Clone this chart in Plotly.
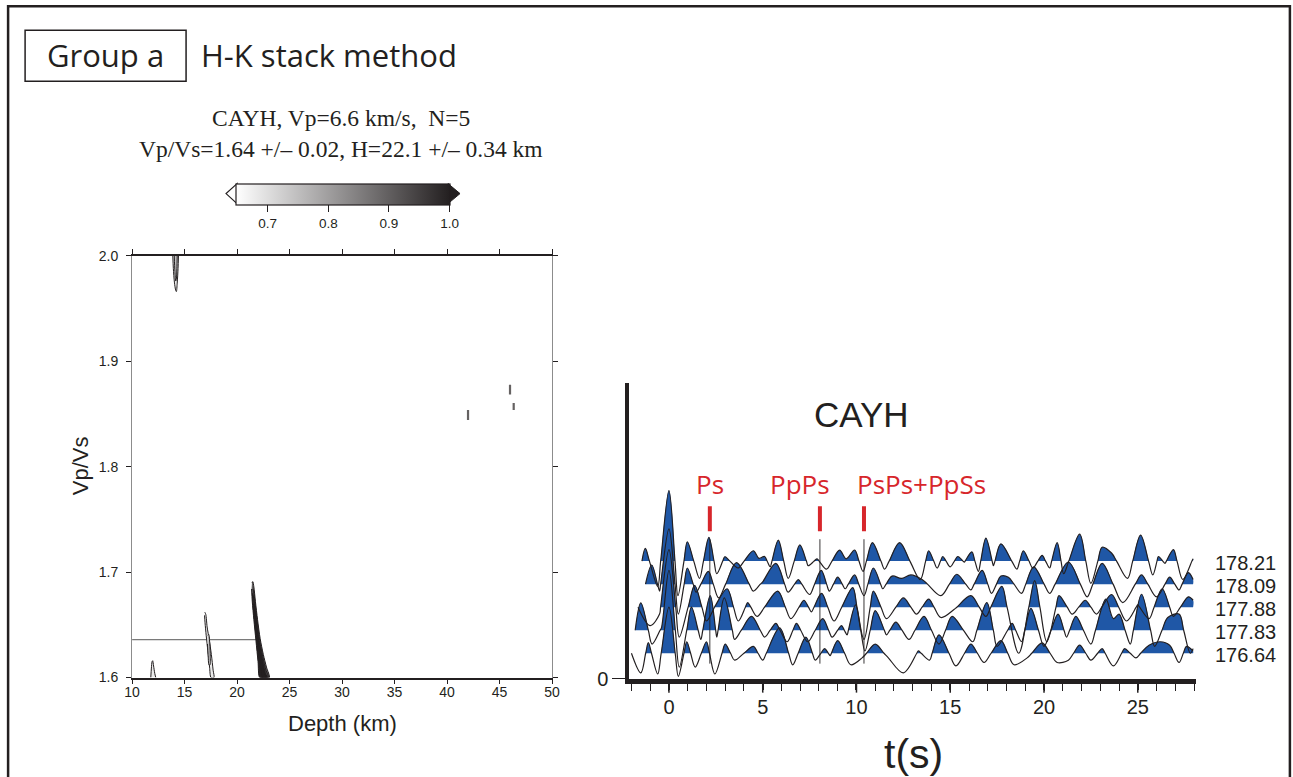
import plotly.graph_objects as go

# Layout is worked out in final window pixels (1293 x 777). The page keeps the browser's
# default 8 px body margin and the photographed view is about 1309 x 798 before it is
# reduced to the window size, so pixel positions are converted accordingly.
W, H = 1293, 777
VIEW_W, VIEW_H = 1309, 798
SX, SY = W / VIEW_W, H / VIEW_H
PAGE_MARGIN = 8
FIG_W, FIG_H = VIEW_W - 2 * PAGE_MARGIN, VIEW_H - 2 * PAGE_MARGIN
INK = "#231f20"
BLUE = "#1f57a6"
RED = "#d7262b"
SANS = "Liberation Sans, Arial, sans-serif"
MYRIAD = "Open Sans, Noto Sans, sans-serif"
SERIF = "Liberation Serif, Times New Roman, serif"


def px(x):
    return (x / SX - PAGE_MARGIN) / FIG_W


def py(y):
    return 1 - (y / SY - PAGE_MARGIN) / FIG_H


# ---------------- H-K stack results ----------------
station = "CAYH"
vp = 6.6
n_events = 5
best_vpvs, err_vpvs = 1.636, 0.02
best_h, err_h = 22.1, 0.34
cmin, cmax = 0.647, 1.0
cbar_ticks = [0.7, 0.8, 0.9, 1.0]

depth_ticks = [10, 15, 20, 25, 30, 35, 40, 45, 50]
vpvs_ticks = [1.6, 1.7, 1.8, 1.9, 2.0]

# normalised stack-amplitude contours (depth km, Vp/Vs)
contour_levels = [0.68, 0.68, 0.75, 0.68, 0.74, 0.90, 0.95, 0.98, 1.0]
contour_depth = [
    [11.78, 11.84, 11.9, 11.96, 12.05, 12.16, 12.26],
    [13.88, 13.93, 14.03, 14.16, 14.22, 14.3, 14.38, 14.42],
    [14.02, 14.08, 14.16, 14.22, 14.27, 14.3],
    [16.93, 17.02, 17.15, 17.35, 17.55, 17.72, 17.8, 17.52, 17.38, 17.22, 17.06, 16.95, 16.9],
    [17.22, 17.3, 17.4, 17.45, 17.42, 17.33, 17.24, 17.18],
    [21.42, 21.5, 21.6, 21.75, 21.95, 22.2, 22.5, 22.8, 23.08, 22.6, 22.16, 22.0, 21.8, 21.6, 21.45, 21.38],
    [21.5, 21.58, 21.72, 21.92, 22.16, 22.45, 22.75, 22.98, 22.22, 22.06, 21.86, 21.66, 21.5, 21.46],
    [21.55, 21.66, 21.85, 22.1, 22.4, 22.7, 22.88, 22.3, 22.12, 21.92, 21.72, 21.56],
    [21.68, 21.82, 22.05, 22.35, 22.62, 22.78, 22.4, 22.2, 21.98, 21.76],
]
contour_vpvs = [
    [1.600, 1.609, 1.615, 1.616, 1.611, 1.604, 1.600],
    [2.0, 1.988, 1.975, 1.967, 1.966, 1.974, 1.988, 2.0],
    [2.0, 1.985, 1.976, 1.978, 1.988, 2.0],
    [1.662, 1.660, 1.648, 1.636, 1.622, 1.607, 1.600, 1.600, 1.610, 1.625, 1.640, 1.652, 1.659],
    [1.640, 1.641, 1.632, 1.620, 1.612, 1.612, 1.622, 1.632],
    [1.690, 1.691, 1.686, 1.672, 1.655, 1.637, 1.622, 1.610, 1.600, 1.600, 1.600, 1.615, 1.635, 1.655, 1.672, 1.684],
    [1.684, 1.682, 1.670, 1.653, 1.635, 1.620, 1.607, 1.600, 1.600, 1.614, 1.634, 1.654, 1.671, 1.680],
    [1.678, 1.668, 1.652, 1.634, 1.618, 1.604, 1.600, 1.600, 1.613, 1.633, 1.653, 1.670],
    [1.665, 1.652, 1.634, 1.617, 1.604, 1.600, 1.600, 1.612, 1.632, 1.652],
]
# isolated small maxima
spot_depth = [42.0, 46.0, 46.35]
spot_vpvs = [1.849, 1.873, 1.857]

# ---------------- receiver functions ----------------
trace_labels = ["178.21", "178.09", "177.88", "177.83", "176.64"]
trace_offsets = [5.1, 4.1, 3.1, 2.1, 1.1]

t_17821 = [-1.44, -1.26, -0.6, 0.0, 0.48, 0.98, 1.63, 2.13, 2.55, 2.98, 3.68, 4.5, 4.8, 5.1, 5.4, 5.83,
           6.36, 6.98, 7.43, 7.9, 8.4, 9.1, 9.45, 9.9, 10.35, 10.85, 11.5, 12.3, 13.4, 13.85, 14.3, 14.6,
           15.0, 15.4, 15.75, 16.15, 16.5, 16.9, 17.3, 17.7, 18.55, 18.9, 19.4, 19.9, 20.3, 20.7, 21.05,
           21.9, 22.5, 23.1, 23.6, 24.45, 25.15, 25.8, 26.1, 26.45, 26.9, 27.4, 27.95]
a_17821 = [0.0, 0.55, -1.1, 3.06, -1.5, 0.84, -0.75, 1.03, -0.55, 0.19, -0.3, 0.45, 0.12, 0.2, -0.25, 0.91,
           -0.75, 0.7, -0.2, 0.1, -0.35, 0.48, 0.1, 0.48, -0.45, 0.8, -0.35, 0.8, -0.8, 0.45, -0.3, 0.2,
           -0.25, 0.2, -0.05, 0.4, -0.45, 1.0, -0.2, 0.75, -0.35, 0.45, -0.3, 0.25, -0.3, 0.8, -0.55,
           1.17, -0.97, 0.6, 0.35, -0.75, 1.13, -0.6, 0.2, -0.1, 0.5, -0.8, 0.1]

t_17809 = [-1.25, -0.92, -0.5, 0.0, 0.5, 0.98, 1.45, 2.1, 2.65, 3.6, 4.5, 5.0, 5.7, 6.35, 6.9, 7.5, 8.12,
           8.55, 9.0, 9.4, 9.9, 10.4, 10.9, 11.4, 11.9, 12.4, 12.9, 13.5, 14.5, 15.35, 16.1, 16.7, 17.2,
           17.7, 18.1, 18.8, 19.45, 20.3, 21.3, 22.3, 23.1, 24.2, 25.2, 26.0, 26.7, 27.2, 27.7, 27.95]
a_17809 = [0.0, 0.83, -0.3, 2.4, -1.3, 0.7, -0.35, 0.55, -0.6, 0.93, -0.3, 0.1, 0.9, -0.35, 0.2, -0.45, 0.6,
           -0.3, 0.3, -0.2, 0.4, -0.5, 0.7, -0.2, 0.35, 0.25, 0.4, 0.2, -0.5, 0.43, -0.25, 0.6, -0.4,
           0.35, 0.3, -0.4, 0.75, -0.4, 0.96, -0.55, 0.9, -0.8, 0.4, -0.55, 0.3, -0.25, 0.5, 0.2]

t_17788 = [-1.65, -1.0, -0.5, 0.0, 0.55, 1.37, 2.0, 2.5, 3.1, 3.7, 4.2, 4.7, 5.8, 6.5, 7.2, 7.6, 8.14, 8.8,
           9.8, 10.4, 10.9, 11.6, 12.5, 13.2, 13.85, 14.5, 15.2, 16.1, 16.9, 17.75, 18.65, 19.5, 20.15,
           20.8, 21.5, 22.2, 22.8, 23.6, 24.4, 25.0, 25.6, 26.3, 26.9, 27.7, 27.95]
a_17788 = [0.0, -0.8, -0.3, 2.5, -1.3, 0.95, -0.6, 0.1, 0.8, -0.6, 0.2, -0.4, 0.7, -0.5, 0.3, -0.2, 0.6, -0.6,
           0.85, -1.4, 0.7, -0.5, 0.4, -0.3, 0.35, -0.45, -0.1, 0.5, -0.4, 0.9, -2.0, 1.15, -1.5,
           0.5, -0.3, 0.3, -0.3, 0.55, -0.6, 0.1, -0.5, 0.8, -0.4, 0.45, 0.3]

t_17783 = [-1.8, -1.5, -0.9, -0.4, 0.0, 0.55, 1.2, 1.7, 2.2, 2.55, 2.95, 3.5, 4.4, 5.1, 5.7, 6.3, 6.8, 7.4,
           8.2, 8.7, 9.2, 9.5, 9.95, 10.45, 11.0, 11.6, 12.1, 12.8, 13.6, 14.4, 15.1, 16.2, 16.95, 17.5,
           18.3, 18.8, 19.3, 20.0, 20.75, 21.2, 21.7, 22.5, 23.3, 23.7, 24.0, 24.6, 25.2, 25.9, 26.6,
           27.2, 27.8, 27.95]
a_17783 = [0.0, 1.19, -0.6, 0.1, 2.6, -1.6, 1.0, -0.4, 1.5, -0.3, 1.4, -0.4, 0.6, -0.3, 0.3, -0.5, 0.3, -0.5,
           0.5, -0.3, 0.2, -0.2, 1.1, -0.9, 0.85, -0.2, 0.35, -0.4, 0.6, -0.6, 0.6, -0.5, 1.2, -0.7,
           0.3, -0.5, 0.95, -0.7, 0.7, -0.3, 0.6, -0.6, 1.35, 0.5, 0.7, -0.6, 1.56, -0.7, 0.55,
           0.7, -1.0, -0.8]

t_17664 = [-2.0, -1.5, -1.1, -0.6, 0.0, 0.5, 0.95, 1.4, 2.0, 2.45, 3.0, 3.5, 4.5, 5.0, 5.9, 6.6, 7.3, 7.8,
           8.3, 8.6, 9.0, 9.7, 10.3, 11.0, 11.7, 12.5, 13.3, 13.9, 14.4, 15.3, 16.1, 16.8, 17.7, 18.4,
           19.1, 19.9, 20.7, 21.3, 21.9, 22.5, 23.1, 23.7, 24.3, 24.9, 25.6, 26.2, 26.7, 27.2, 27.6, 27.95]
a_17664 = [0.0, -0.85, 0.46, -0.9, 2.0, -1.0, 0.5, -0.6, 0.5, -0.9, 0.4, -0.3, 0.3, -0.3, 1.1, -0.5, 0.7, -0.3,
           0.2, -0.1, 0.55, -0.5, -0.2, 0.4, -0.2, -0.85, 0.1, -0.3, 0.8, -0.55, 0.4, -0.4, 0.55, -0.5,
           -0.2, 0.45, -0.4, -0.3, 0.35, -0.3, 0.2, -0.55, 0.2, -0.2, 0.35, 0.5, 0.35, -0.4, 0.3, 0.1]

trace_times = [t_17821, t_17809, t_17788, t_17783, t_17664]
trace_amps = [a_17821, a_17809, a_17788, a_17783, a_17664]

phase_names = ["Ps", "PpPs", "PsPs+PpSs"]
phase_times = [2.18, 8.05, 10.4]
time_ticks = [0, 5, 10, 15, 20, 25]


def gray(level):
    f = min(max((level - cmin) / (cmax - cmin), 0), 1)
    r = round(255 + (35 - 255) * f)
    g = round(255 + (31 - 255) * f)
    b = round(255 + (32 - 255) * f)
    return f"rgb({r},{g},{b})"


def with_zero_crossings(t, a):
    ts, vs = [], []
    for i in range(len(t)):
        if i > 0 and a[i - 1] * a[i] < 0:
            f = a[i - 1] / (a[i - 1] - a[i])
            ts.append(t[i - 1] + f * (t[i] - t[i - 1]))
            vs.append(0.0)
        ts.append(t[i])
        vs.append(a[i])
    return ts, vs


def positive_lobes(ts, vs, base):
    xs, ys = [], []
    run = []

    def flush():
        if len(run) >= 2 and any(v > 0 for _, v in run):
            seg = list(run)
            if seg[0][1] > 0:
                seg.insert(0, (seg[0][0], 0.0))
            if seg[-1][1] > 0:
                seg.append((seg[-1][0], 0.0))
            xs.extend([p[0] for p in seg] + [None])
            ys.extend([base + p[1] for p in seg] + [None])

    for tt, vv in zip(ts, vs):
        if vv >= 0:
            run.append((tt, vv))
        else:
            flush()
            run.clear()
    flush()
    return xs, ys


def note(x, y, text, size, family=SANS, color=INK, **kw):
    d = dict(x=px(x), y=py(y), xref="paper", yref="paper", text=text, showarrow=False,
             xanchor="center", yanchor="middle", font=dict(family=family, size=size, color=color))
    d.update(kw)
    return d


fig = go.Figure()

# ---- H-K panel ----
fig.add_trace(go.Scatter(x=[10, best_h], y=[best_vpvs, best_vpvs], mode="lines",
                         line=dict(color="#7a7a7a", width=1.2), xaxis="x", yaxis="y",
                         hoverinfo="skip"))
for lev, hs, ks in zip(contour_levels, contour_depth, contour_vpvs):
    fig.add_trace(go.Scatter(x=hs, y=ks, mode="lines", fill="toself", fillcolor=gray(lev),
                             line=dict(color=INK, width=1.0, shape="spline", smoothing=0.8),
                             xaxis="x", yaxis="y", hoverinfo="skip"))
fig.add_trace(go.Scatter(x=spot_depth, y=spot_vpvs, mode="markers",
                         marker=dict(symbol="line-ns-open", size=[7, 7, 5], color=INK,
                                     line=dict(color=INK, width=2.2)),
                         xaxis="x", yaxis="y", hoverinfo="skip"))
# carrier for the shared grey colour bar
fig.add_trace(go.Scatter(x=[10], y=[1.6], mode="markers",
                         marker=dict(color=[cmin], coloraxis="coloraxis", size=1, opacity=0),
                         xaxis="x", yaxis="y", hoverinfo="skip"))

# ---- receiver function panel ----
prepared = [with_zero_crossings(t, a) for t, a in zip(trace_times, trace_amps)]
for (ts, vs), base in zip(prepared, trace_offsets):
    fx, fy = positive_lobes(ts, vs, base)
    fig.add_trace(go.Scatter(x=fx, y=fy, mode="lines", fill="toself", fillcolor=BLUE,
                             line=dict(width=0, shape="spline", color=BLUE),
                             xaxis="x2", yaxis="y2", hoverinfo="skip"))
for (ts, vs), base in zip(prepared, trace_offsets):
    fig.add_trace(go.Scatter(x=ts, y=[base + v for v in vs], mode="lines",
                             line=dict(color=INK, width=1.2, shape="spline"),
                             xaxis="x2", yaxis="y2", hoverinfo="skip"))

mark_x, mark_y, rule_x, rule_y = [], [], [], []
for tp in phase_times:
    mark_x += [tp, tp, None]
    mark_y += [6.39, 7.48, None]
    rule_x += [tp, tp, None]
    rule_y += [0.65, 6.05, None]
fig.add_trace(go.Scatter(x=rule_x, y=rule_y, mode="lines", line=dict(color=INK, width=0.9),
                         xaxis="x2", yaxis="y2", hoverinfo="skip"))
fig.add_trace(go.Scatter(x=mark_x, y=mark_y, mode="lines", line=dict(color=RED, width=4),
                         xaxis="x2", yaxis="y2", hoverinfo="skip"))

annotations = []
label_shift = [0, -20, 57]
for name, tp, sh in zip(phase_names, phase_times, label_shift):
    annotations.append(dict(x=tp, y=8.43, xref="x2", yref="y2", text=name, showarrow=False,
                            xanchor="center", yanchor="middle", xshift=sh / SX,
                            font=dict(family=MYRIAD, size=26, color=RED)))
for lab, base in zip(trace_labels, trace_offsets):
    annotations.append(dict(x=px(1213), y=base - 0.07, xref="paper", yref="y2", text=lab,
                            showarrow=False, xanchor="left", yanchor="middle",
                            font=dict(family=SANS, size=20, color=INK)))

annotations += [
    note(105, 55, "Group a", 31, MYRIAD),
    note(199, 55, "H-K stack method", 31, MYRIAD, xanchor="left"),
    note(341, 118, f"{station}, Vp={vp} km/s,  N={n_events}", 23.5, SERIF),
    note(341, 148,
         f"Vp/Vs={best_vpvs:.2f} +/\u2013 {err_vpvs:.2f}, H={best_h} +/\u2013 {err_h} km",
         23.5, SERIF),
    note(80, 465, "Vp/Vs", 22, textangle=-90),
    note(342, 722, "Depth (km)", 22),
    note(862, 413, station, 35),
    note(914, 752, "t(s)", 41),
]

shapes = [
    dict(type="rect", xref="paper", yref="paper", x0=px(8), x1=px(1290), y0=py(820), y1=py(6),
         line=dict(color=INK, width=2.5)),
    dict(type="rect", xref="paper", yref="paper", x0=px(25), x1=px(186), y0=py(81), y1=py(30),
         line=dict(color=INK, width=1.5)),
    dict(type="path", xref="paper", yref="paper",
         path=f"M {px(237)} {py(183)} L {px(226)} {py(193)} L {px(237)} {py(203)} Z",
         fillcolor="white", line=dict(color=INK, width=1.2)),
    dict(type="path", xref="paper", yref="paper",
         path=f"M {px(448)} {py(183)} L {px(460)} {py(193)} L {px(448)} {py(203)} Z",
         fillcolor=INK, line=dict(color=INK, width=1)),
]
# long marks at the labelled times below the time axis
for tk in time_ticks:
    shapes.append(dict(type="line", xref="x2", yref="paper", x0=tk, x1=tk,
                       y0=py(679), y1=py(691), line=dict(color=INK, width=1.5)))

tickfont_small = dict(family=SANS, size=14, color=INK)
fig.update_layout(
    width=FIG_W, height=FIG_H, margin=dict(l=0, r=0, t=0, b=0),
    paper_bgcolor="white", plot_bgcolor="white", showlegend=False,
    annotations=annotations, shapes=shapes,
    coloraxis=dict(
        cmin=cmin, cmax=cmax,
        colorscale=[[0, "rgb(255,255,255)"], [1, "rgb(35,31,32)"]],
        colorbar=dict(orientation="h", x=px(342.5), xanchor="center", y=py(183), yanchor="top",
                      len=211 / SX, lenmode="pixels", thickness=20 / SY, thicknessmode="pixels",
                      outlinewidth=1.2, outlinecolor=INK, xpad=0, ypad=0,
                      ticks="outside", ticklen=7, tickwidth=1, tickcolor=INK,
                      tickvals=cbar_ticks, ticktext=[f"{v:.1f}" for v in cbar_ticks],
                      tickfont=dict(family=SANS, size=13.5, color=INK)),
    ),
    xaxis=dict(domain=[px(132), px(552)], range=[10, 50], anchor="y",
               tickvals=depth_ticks, ticks="outside", ticklen=5, tickwidth=1, tickcolor=INK,
               ticklabelstandoff=-4,
               showline=True, linecolor=INK, linewidth=1.5, mirror="ticks",
               showgrid=False, zeroline=False, tickfont=tickfont_small),
    yaxis=dict(domain=[py(676), py(255)], range=[1.6, 2.0], anchor="x",
               tickvals=vpvs_ticks, ticktext=[f"{v:.1f}" for v in vpvs_ticks],
               ticks="outside", ticklen=5, tickwidth=1, tickcolor=INK,
               ticklabelstandoff=5,
               showline=True, linecolor="#8c8c8c", linewidth=1, mirror="ticks",
               showgrid=False, zeroline=False, tickfont=tickfont_small),
    xaxis2=dict(domain=[px(629), px(1196)], range=[-2.13, 28.1], anchor="y2",
                tickvals=time_ticks, ticks="outside", ticklen=6, tickwidth=1.5, tickcolor=INK,
                minor=dict(dtick=1, tick0=0, ticks="outside", ticklen=7, tickwidth=1.2,
                           tickcolor=INK),
                showline=True, linecolor=INK, linewidth=5, showgrid=False, zeroline=False,
                tickfont=dict(family=SANS, size=20, color=INK)),
    yaxis2=dict(domain=[py(677), py(382)], range=[0, 12.83], anchor="x2",
                tickvals=[0], ticktext=["0"], ticks="outside", ticklen=13, tickwidth=1.2,
                tickcolor=INK, showline=True, linecolor=INK, linewidth=3.5,
                showgrid=False, zeroline=False,
                tickfont=dict(family=SANS, size=20, color=INK)),
)

fig.write_html("out.html")
